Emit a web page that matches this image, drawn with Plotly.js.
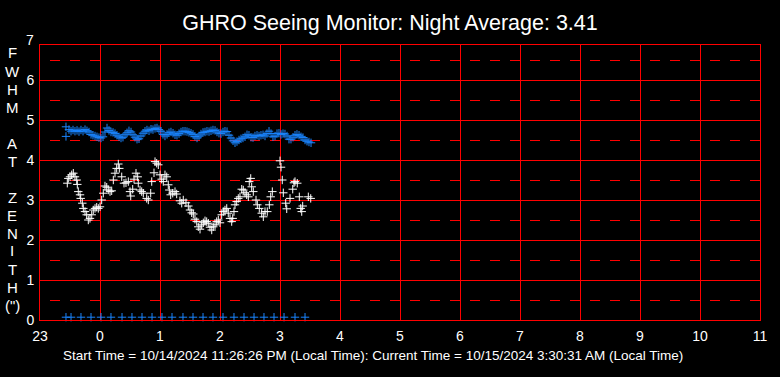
<!DOCTYPE html>
<html><head><meta charset="utf-8">
<script src="https://cdn.plot.ly/plotly-3.0.1.min.js"></script>
<style>html,body{margin:0;padding:0;background:#000;}</style>
</head><body><div id="chart" style="width:780px;height:377px;"></div>
<script>
// ---- DATA ----
const chartTitle = "GHRO Seeing Monitor: Night Average: 3.41";
const footerText = "Start Time = 10/14/2024 11:26:26 PM (Local Time): Current Time = 10/15/2024 3:30:31 AM (Local Time)";
const yLabelLetters = ["F","W","H","M","","A","T","","Z","E","N","I","T","H","(\")"];
const xTickVals = [-1,0,1,2,3,4,5,6,7,8,9,10,11];
const xTickText = ["23","0","1","2","3","4","5","6","7","8","9","10","11"];
const yTickVals = [0,1,2,3,4,5,6];
const yTickText = ["0","1","2","3","4","5","6"];

// blue series: hours after midnight, FWHM
const blueX = [-0.567,-0.567,-0.517,-0.483,-0.45,-0.417,-0.383,-0.35,-0.317,-0.283,-0.25,-0.217,-0.183,-0.15,-0.117,-0.083,-0.05,-0.017,0.017,0.05,0.083,0.117,0.15,0.183,0.217,0.25,0.283,0.317,0.35,0.383,0.417,0.45,0.483,0.517,0.55,0.583,0.617,0.65,0.683,0.717,0.75,0.783,0.817,0.85,0.883,0.917,0.95,0.983,1.017,1.05,1.083,1.117,1.15,1.183,1.217,1.25,1.283,1.317,1.35,1.383,1.417,1.45,1.483,1.517,1.55,1.583,1.617,1.65,1.683,1.717,1.75,1.783,1.817,1.85,1.883,1.917,1.95,1.983,2.017,2.05,2.083,2.117,2.15,2.183,2.217,2.25,2.283,2.317,2.35,2.383,2.417,2.45,2.483,2.517,2.55,2.583,2.617,2.65,2.683,2.717,2.75,2.783,2.817,2.85,2.883,2.917,2.95,2.983,3.017,3.05,3.083,3.117,3.15,3.183,3.217,3.25,3.283,3.317,3.35,3.383,3.417,3.45,3.483,3.517];
const blueY = [4.83,4.59,4.76,4.72,4.75,4.72,4.74,4.71,4.75,4.72,4.76,4.73,4.70,4.64,4.62,4.60,4.58,4.56,4.55,4.58,4.70,4.80,4.74,4.70,4.69,4.66,4.62,4.58,4.55,4.57,4.63,4.68,4.73,4.70,4.63,4.57,4.52,4.53,4.60,4.67,4.72,4.75,4.73,4.77,4.76,4.79,4.80,4.76,4.72,4.64,4.60,4.64,4.68,4.70,4.67,4.63,4.62,4.66,4.70,4.72,4.72,4.71,4.69,4.67,4.64,4.59,4.55,4.60,4.65,4.69,4.70,4.72,4.71,4.73,4.75,4.74,4.70,4.67,4.66,4.70,4.72,4.71,4.62,4.55,4.48,4.43,4.46,4.50,4.53,4.55,4.58,4.63,4.62,4.57,4.56,4.60,4.62,4.60,4.62,4.63,4.60,4.66,4.72,4.66,4.58,4.60,4.66,4.67,4.64,4.66,4.65,4.60,4.52,4.52,4.57,4.62,4.64,4.62,4.58,4.56,4.50,4.47,4.45,4.43];

// blue markers along the bottom of the plot
const blueZeroX = [-0.567,-0.483,-0.317,-0.15,0.017,0.183,0.367,0.533,0.7,0.867,1.033,1.2,1.383,1.55,1.717,1.883,2.05,2.233,2.4,2.567,2.733,2.9,3.067,3.25,3.417];
const blueZeroY = [0.07,0.07,0.07,0.07,0.07,0.07,0.07,0.07,0.07,0.07,0.07,0.07,0.07,0.07,0.07,0.07,0.07,0.07,0.07,0.07,0.07,0.07,0.07,0.07,0.07];

// white series
const whiteX = [-0.545,-0.528,-0.5,-0.472,-0.445,-0.417,-0.388,-0.378,-0.362,-0.333,-0.322,-0.295,-0.278,-0.25,-0.222,-0.195,-0.167,-0.138,-0.112,-0.083,-0.055,-0.028,0,0.028,0.055,0.083,0.112,0.138,0.167,0.195,0.222,0.25,0.278,0.305,0.322,0.362,0.4,0.433,0.472,0.5,0.512,0.545,0.567,0.6,0.628,0.638,0.667,0.695,0.722,0.778,0.805,0.845,0.862,0.9,0.917,0.945,0.972,1.0,1.028,1.055,1.083,1.112,1.138,1.155,1.178,1.212,1.25,1.278,1.333,1.362,1.388,1.433,1.472,1.5,1.528,1.555,1.583,1.612,1.638,1.667,1.695,1.722,1.75,1.778,1.805,1.833,1.862,1.888,1.917,1.945,1.972,2.0,2.028,2.055,2.083,2.112,2.138,2.167,2.195,2.212,2.233,2.25,2.278,2.305,2.333,2.362,2.388,2.417,2.445,2.472,2.488,2.512,2.528,2.555,2.6,2.622,2.655,2.695,2.722,2.75,2.788,2.822,2.845,2.872,2.917,2.95,3.0,3.017,3.038,3.055,3.095,3.112,3.15,3.167,3.212,3.233,3.25,3.288,3.322,3.345,3.362,3.378,3.472,3.512];
const whiteY = [3.42,3.54,3.58,3.63,3.67,3.58,3.50,3.39,3.21,3.13,3.04,2.92,2.79,2.71,2.63,2.50,2.54,2.63,2.75,2.79,2.82,2.79,2.83,3.00,3.17,3.35,3.32,3.25,3.21,3.23,3.50,3.67,3.79,3.90,3.79,3.58,3.42,3.43,3.46,3.21,3.10,3.27,3.52,3.67,3.58,3.42,3.25,3.21,3.17,3.04,3.00,3.17,3.46,3.68,3.96,3.92,3.88,3.63,3.52,3.46,3.63,3.58,3.38,3.25,3.13,3.17,3.21,3.15,2.98,2.92,3.00,2.93,2.85,2.75,2.68,2.65,2.52,2.46,2.33,2.27,2.38,2.43,2.48,2.46,2.42,2.32,2.25,2.33,2.38,2.46,2.50,2.43,2.63,2.71,2.75,2.79,2.67,2.54,2.46,2.54,2.71,2.88,2.96,3.04,3.08,3.27,3.25,3.18,3.13,3.08,3.46,3.54,3.33,3.21,3.00,2.88,2.79,2.67,2.58,2.71,2.71,2.88,3.08,3.21,6.95,6.95,3.98,3.82,3.50,3.18,2.92,2.78,6.95,3.04,3.27,3.43,3.46,3.42,3.08,2.79,2.71,2.85,3.08,3.04];

// ---- LAYOUT / DRAW ----
const FONT = "Liberation Sans, Arial, sans-serif";
const L = 40, R = 760, T = 45, B = 320;
const px2x = p => (p - L) / (R - L);
const px2y = p => (B - p) / (B - T);

const markerStyle = c => ({symbol: "cross-thin", size: 6, color: c, line: {color: c, width: 1}});

const traces = [
  {x: blueX, y: blueY, type: "scatter", mode: "markers", marker: markerStyle("#1a85ff"), cliponaxis: false, hoverinfo: "skip"},
  {x: blueZeroX, y: blueZeroY, type: "scatter", mode: "markers", marker: markerStyle("#1a85ff"), cliponaxis: false, hoverinfo: "skip"},
  {x: whiteX, y: whiteY, type: "scatter", mode: "markers", marker: markerStyle("#ffffff"), cliponaxis: false, hoverinfo: "skip"}
];

const letterY = [53,71,89,107,125,143,161,179,197,215,233,251,269,287,305];
const annotations = [];
yLabelLetters.forEach((s, i) => {
  if (!s) return;
  annotations.push({text: s, xref: "paper", yref: "paper", x: px2x(12), y: px2y(letterY[i]),
    xanchor: "center", yanchor: "middle", showarrow: false, font: {family: FONT, size: 15, color: "#fff"}});
});
annotations.push({text: "7", xref: "paper", yref: "paper", x: px2x(36), y: px2y(40),
  xanchor: "right", yanchor: "middle", showarrow: false, font: {family: FONT, size: 14, color: "#fff"}});
annotations.push({text: footerText, xref: "paper", yref: "paper", x: px2x(373), y: px2y(355),
  xanchor: "center", yanchor: "middle", showarrow: false, font: {family: FONT, size: 13.5, color: "#fff"}});

const layout = {
  width: 780, height: 377,
  margin: {l: L, r: 780 - R, t: T, b: 377 - B},
  paper_bgcolor: "#000", plot_bgcolor: "#000",
  showlegend: false,
  title: {text: chartTitle, x: 0.5, xanchor: "center", y: 1 - 22/377, yanchor: "middle", yref: "container",
    font: {family: FONT, size: 21.5, color: "#fff"}},
  xaxis: {range: [-1, 11], tickmode: "array", tickvals: xTickVals, ticktext: xTickText,
    showgrid: true, gridcolor: "#ff0000", gridwidth: 1, zeroline: false,
    showline: true, linecolor: "#ff0000", linewidth: 1, mirror: true,
    ticks: "outside", ticklen: 3, tickcolor: "rgba(0,0,0,0)",
    tickfont: {family: FONT, size: 14, color: "#fff"}, fixedrange: true},
  yaxis: {range: [0, 6.875], tickmode: "array", tickvals: yTickVals, ticktext: yTickText,
    showgrid: true, gridcolor: "#ff0000", gridwidth: 1, zeroline: false,
    showline: true, linecolor: "#ff0000", linewidth: 1, mirror: true,
    ticks: "outside", ticklen: 2, tickcolor: "rgba(0,0,0,0)",
    tickfont: {family: FONT, size: 14, color: "#fff"}, fixedrange: true,
    minor: {tickvals: [0.5,1.5,2.5,3.5,4.5,5.5,6.5], showgrid: true, gridcolor: "#ff0000", gridwidth: 1, griddash: "0px,10px,10px,0px"}},
  annotations: annotations
};

Plotly.newPlot("chart", traces, layout, {displayModeBar: false, staticPlot: true});
</script>
</body></html>
